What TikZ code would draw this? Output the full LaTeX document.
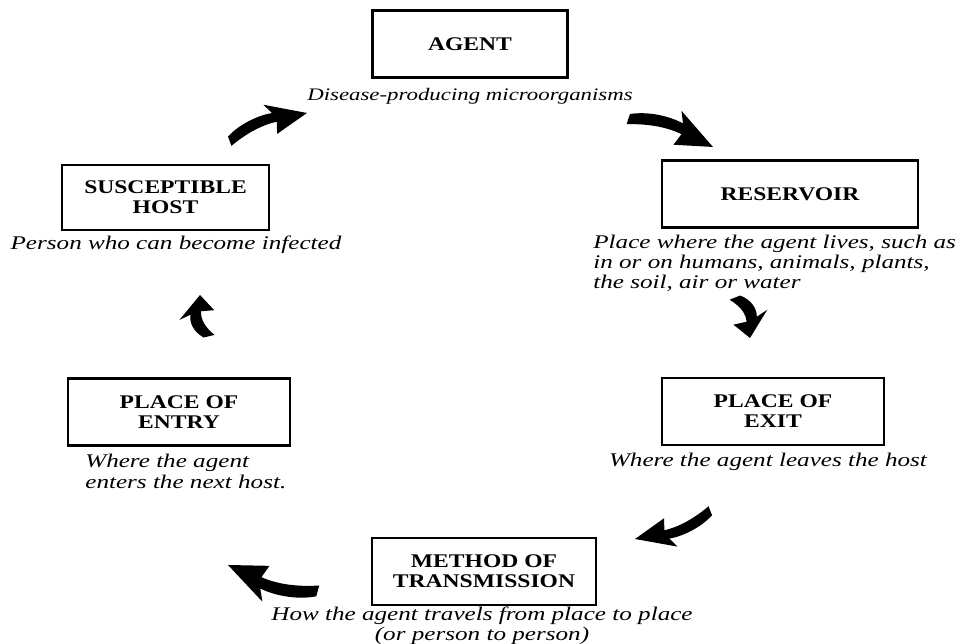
\documentclass[tikz,border=0pt]{standalone}
\usepackage{fontspec}
\setmainfont{Liberation Serif}
\newfontfamily\boxfont{Liberation Serif}[FakeStretch=1.22]
\newfontfamily\notefont{Liberation Serif}[FakeStretch=1.3]
\usetikzlibrary{calc}

% thick curved arrow from #1 to #2, #3 = extra width
\newcommand{\swoosh}[3]{%
  \fill let \p1=(#1), \p2=(#2),
    \n1={atan2(\y2-\y1,\x2-\x1)}, \n2={veclen(\x2-\x1,\y2-\y1)} in
    [shift={(\p1)}, rotate=\n1, xscale={\n2/56.9055}, yscale={#3*\n2/56.9055}]
    (0,7) .. controls (20,17) and (45,18) .. (60,15) -- (54,28) -- (100,0)
    -- (57,-11) -- (62,3) .. controls (42,6) and (20,2) .. (0,-5) -- cycle;}

\begin{document}
\begin{tikzpicture}[x=0.02cm, y=0.02cm,
  stage/.style={draw, line width=1.6pt, align=center,
    font=\boxfont\bfseries\fontsize{11}{11.5}\selectfont, minimum height=1.34cm},
  note/.style={align=center, inner sep=0pt,
    font=\notefont\itshape\fontsize{11}{11.5}\selectfont}]
  \useasboundingbox (0,0) rectangle (956,644);

  \node[stage, minimum width=3.9cm] (agent) at (470,600) {AGENT};
  \node[note, font=\notefont\itshape\fontsize{10}{11.5}\selectfont] (agentnote) at (470,548)
    {Disease-producing microorganisms};
  \node[stage, minimum width=5.12cm] (reservoir) at (790,450) {RESERVOIR};
  \node[note, align=left, anchor=west] (reservoirnote) at (593,381)
    {Place where the agent lives, such as\\in or on humans, animals, plants,\\the soil, air or water};
  \node[stage, minimum width=4.44cm] (exit) at (773,232.5) {PLACE OF\\EXIT};
  \node[note] (exitnote) at (768,182) {Where the agent leaves the host};
  \node[stage, minimum width=4.48cm] (method) at (484,72.5) {METHOD OF\\TRANSMISSION};
  \node[note] (methodnote) at (482,18)
    {How the agent travels from place to place\\(or person to person)};
  \node[stage, minimum width=4.44cm] (entry) at (179,232) {PLACE OF\\ENTRY};
  \node[note, align=left, anchor=west] (entrynote) at (85,172.5)
    {Where the agent\\enters the next host.};
  \node[stage, minimum width=4.14cm, minimum height=1.3cm] (host) at (165.5,446.5)
    {SUSCEPTIBLE\\HOST};
  \node[note] (hostnote) at (176,399) {Person who can become infected};

  % arrow ends
  \coordinate (t1) at (230,502); \coordinate (h1) at (307,531);
  \coordinate (t2) at (628,524); \coordinate (h2) at (713,497);
  \coordinate (t3) at (734,346); \coordinate (h3) at (750,306);
  \coordinate (t4) at (710,134); \coordinate (h4) at (635,105);
  \coordinate (t5) at (318,54);  \coordinate (h5) at (228,79);
  \coordinate (t6) at (210,308); \coordinate (h6) at (200,349);

  \swoosh{t1}{h1}{1}
  \swoosh{t2}{h2}{1}
  \swoosh{t3}{h3}{2.2}
  \swoosh{t4}{h4}{1}
  \swoosh{t5}{h5}{1}
  \swoosh{t6}{h6}{2.2}
\end{tikzpicture}
\end{document}
